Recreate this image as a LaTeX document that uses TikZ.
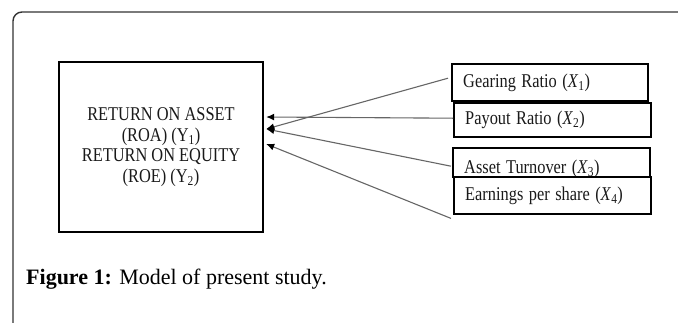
\documentclass[tikz,border=0pt]{standalone}
\usepackage{fontspec}
\setmainfont{Liberation Serif}
\usetikzlibrary{arrows.meta}
\newcommand{\nrw}[1]{\scalebox{0.84}[1]{#1}}
\begin{document}
\begin{tikzpicture}[x=1pt,y=-1pt,
  rbox/.style={draw=black,line width=2.4pt,anchor=north west,inner xsep=11pt,inner ysep=0pt,
    align=left,text=black!90,font=\fontsize{19.5}{21}\selectfont},
  arr/.style={draw=black!60,line width=1.1pt,-{Latex[length=8pt,width=7pt,color=black]}}]
\useasboundingbox (0,0) rectangle (678,322);
% outer frame
\draw[line width=1.4pt,draw=black!80,rounded corners=9pt] (13,330) -- (13,12) -- (690,12);
% main box
\node[draw=black,line width=2.4pt,minimum width=204pt,minimum height=170pt,align=center,
  text=black!90,font=\fontsize{19.5}{20.5}\selectfont] (roa) at (161,147)
  {\nrw{RETURN ON ASSET}\\ \nrw{(ROA) (Y\textsubscript{1})}\\ \nrw{RETURN ON EQUITY}\\ \nrw{(ROE) (Y\textsubscript{2})}};
% right boxes
\node[rbox,text width=174pt,minimum height=37pt] (gear) at (451,63)
  {\nrw{Gearing Ratio (\textit{X}\textsubscript{1})}};
\node[rbox,text width=175pt,minimum height=34pt] (pay) at (453,102)
  {\nrw{Payout Ratio (\textit{X}\textsubscript{2})}};
\node[rbox,text width=175pt,minimum height=29pt] (asset) at (452,147)
  {\raisebox{-6pt}[13pt][4pt]{\nrw{Asset Turnover (\textit{X}\textsubscript{3})}}};
\node[rbox,text width=175pt,minimum height=37pt] (earn) at (453,176)
  {\nrw{Earnings per share (\textit{X}\textsubscript{4})}};
% arrows
\draw[arr] ([yshift=2pt]pay.west) -- ([xshift=2pt,yshift=30pt]roa.east);
\draw[arr] ([xshift=-3pt,yshift=4.5pt]gear.west) -- ([xshift=2pt,yshift=18pt]roa.east);
\draw[arr] ([xshift=-1pt,yshift=-3.5pt]asset.west) -- ([xshift=2pt,yshift=18pt]roa.east);
\draw[arr] ([xshift=-2pt,yshift=-3pt]earn.south west) -- ([xshift=2pt,yshift=3pt]roa.east);
% caption
\node[anchor=base west,inner sep=0pt,font=\fontsize{22}{26}\selectfont] (cap) at (26,284)
  {\textbf{Figure 1:} Model of present study.};
\end{tikzpicture}
\end{document}
